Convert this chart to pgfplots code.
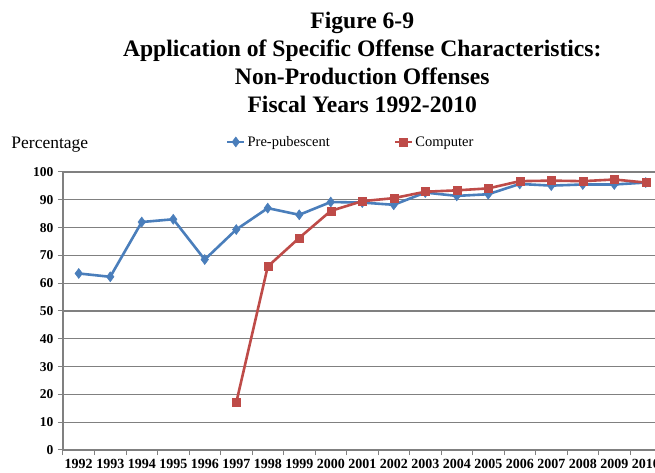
\documentclass[border=0pt]{standalone}
\usepackage{fontspec}
\setmainfont{Liberation Serif}
\usepackage{pgfplots}
\pgfplotsset{compat=1.18}
\definecolor{xlblue}{RGB}{74,126,187}
\definecolor{xlred}{RGB}{190,75,72}
\definecolor{gridgray}{RGB}{128,128,128}

\pgfplotstableread{
x val
0  63.5
1  62.3
2  82.0
3  83.0
4  68.5
5  79.3
6  87.0
7  84.6
8  89.2
9  89.0
10 88.2
11 92.6
12 91.4
13 92.0
14 95.7
15 95.1
16 95.5
17 95.5
18 96.2
}\prepub

\pgfplotstableread{
x val
5  17.0
6  66.0
7  76.3
8  86.0
9  89.5
10 90.6
11 92.9
12 93.4
13 94.1
14 96.7
15 96.9
16 96.7
17 97.3
18 96.2
}\computer

\begin{document}
\begin{tikzpicture}
\begin{axis}[
    name=ax,
    scale only axis,
    width=598.5pt, height=278pt,
    xmin=-0.5, xmax=18.5,
    ymin=0, ymax=100,
    xtick={0,...,18},
    xticklabels={1992,1993,1994,1995,1996,1997,1998,1999,2000,2001,2002,2003,2004,2005,2006,2007,2008,2009,2010},
    minor xtick={-0.5,0.5,...,18.5},
    ytick={0,10,...,100},
    axis x line*=bottom,
    axis y line*=left,
    axis line style={gridgray, line width=1.3pt, -},
    tick align=outside,
    major x tick style={draw=none},
    minor x tick style={gridgray, line width=1pt},
    minor tick length=5pt,
    major y tick style={gridgray, line width=1pt},
    major tick length=5pt,
    ymajorgrids=true,
    major grid style={gridgray, line width=1.3pt},
    /pgf/number format/assume math mode=true,
    xticklabel style={font=\fontsize{14}{16}\selectfont\bfseries, yshift=-1pt},
    yticklabel style={font=\fontsize{13.5}{15}\selectfont\bfseries, xshift=-1pt},
    title={Figure 6-9\\Application of Specific Offense Characteristics:\\Non-Production Offenses\\Fiscal Years 1992-2010},
    title style={font=\fontsize{23.6}{28}\selectfont\bfseries, align=center,
        at={(0.5,1)}, anchor=south, yshift=50pt},
    legend columns=2,
    legend style={draw=none, fill=none, font=\fontsize{14.5}{16}\selectfont,
        at={(axis description cs:0.272,1.108)}, anchor=west,
        /tikz/every even column/.append style={column sep=62pt},
        inner sep=0pt},
    legend cell align=left,
    clip=false,
]
\addplot[xlblue, line width=2.6pt, mark=diamond*, mark size=5pt,
    mark options={solid, line width=0.5pt}] table[x=x, y=val] {\prepub};
\addlegendentry{Pre-pubescent}
\addplot[xlred, line width=2.6pt, mark=square*, mark size=4pt,
    mark options={solid, line width=0.5pt}] table[x=x, y=val] {\computer};
\addlegendentry{Computer}
\node[anchor=west, font=\fontsize{17.5}{20}\selectfont]
    at (axis description cs:-0.092,1.097) {Percentage};
\end{axis}
\pgfresetboundingbox
\useasboundingbox ([xshift=-63pt,yshift=-23pt]ax.south west)
    rectangle ([xshift=592pt,yshift=450pt]ax.south west);
\end{tikzpicture}
\end{document}
